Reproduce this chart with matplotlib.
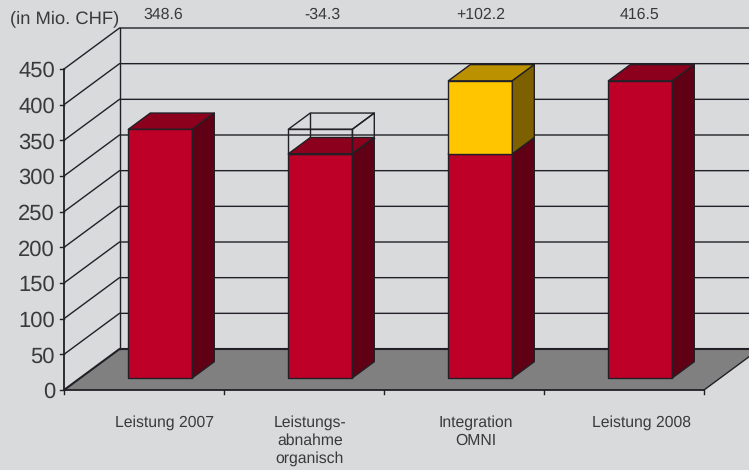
import matplotlib
matplotlib.use('Agg')
import matplotlib.pyplot as plt
from matplotlib.patches import Polygon

plt.rcParams['font.family'] = ['Liberation Sans', 'DejaVu Sans']
plt.rcParams['text.hinting'] = 'no_hinting'

# Data
categories = ['Leistung 2007', 'Leistungs-\nabnahme\norganisch', 'Integration\nOMNI', 'Leistung 2008']
top_labels = ['348.6', '-34.3', '+102.2', '416.5']
red_values = [348.6, 314.3, 314.3, 416.5]
yellow_values = [0, 0, 102.2, 0]
ghost_values = [0, 34.3, 0, 0]
y_ticks = [0, 50, 100, 150, 200, 250, 300, 350, 400, 450]

# Colors
bg_color = '#d9dadc'
floor_color = '#808080'
line_color = '#222026'
text_color = '#3a3a3a'
red_faces = ('#be0028', '#8c001e', '#5f0014')
yellow_faces = ('#ffc600', '#bb9100', '#7d6100')

# Layout of the fake 3d box, in pixels
x0, y0 = 64.0, 390.0
cat_w = 160.0
px_per_unit = 321.0 / 450
depth_dx, depth_dy = 55.5, -41.0
bar_gap = 48.0
bar_w = 64.0
d_front, d_back = 0.295, 0.69
top_label_x = [163, 322, 481, 640]
cat_label_x = [165, 310, 476, 642]


def pt(cat, value, depth):
    # cat in category units, value in CHF, depth 0 (front) to 1 (back)
    return (x0 + cat * cat_w + depth * depth_dx,
            y0 - value * px_per_unit + depth * depth_dy)


def draw_block(ax, i, low, high, faces, fill=True):
    left = i + bar_gap / cat_w
    right = left + bar_w / cat_w
    front = [pt(left, low, d_front), pt(right, low, d_front),
             pt(right, high, d_front), pt(left, high, d_front)]
    side = [pt(right, low, d_front), pt(right, low, d_back),
            pt(right, high, d_back), pt(right, high, d_front)]
    top = [pt(left, high, d_front), pt(right, high, d_front),
           pt(right, high, d_back), pt(left, high, d_back)]
    for poly, face in zip((front, top, side), faces):
        ax.add_patch(Polygon(poly, closed=True, facecolor=face if fill else 'none',
                             edgecolor=line_color, linewidth=1.0, joinstyle='round', zorder=4))
    if not fill:
        # back edges of the empty box show through
        for a, b in ((pt(left, low, d_back), pt(left, high, d_back)),
                     (pt(left, low, d_back), pt(right, low, d_back))):
            ax.plot(*zip(a, b), color=line_color, lw=1.0, zorder=3.5)


fig = plt.figure(figsize=(7.49, 4.70), dpi=100, facecolor=bg_color)
ax = fig.add_axes([0, 0, 1, 1])
ax.set_xlim(0, 749)
ax.set_ylim(470, 0)
ax.axis('off')

n = len(categories)

# Floor
floor = [pt(0, 0, 0), pt(n, 0, 0), pt(n, 0, 1), pt(0, 0, 1)]
ax.add_patch(Polygon(floor, closed=True, facecolor=floor_color, edgecolor='none', zorder=1))

# Gridlines on side wall and back wall
for v in y_ticks:
    xs = [pt(0, v, 0)[0], pt(0, v, 1)[0], pt(n, v, 1)[0]]
    ys = [pt(0, v, 0)[1], pt(0, v, 1)[1], pt(n, v, 1)[1]]
    lw = 1.5 if v == 0 else 1.0
    ax.plot(xs, ys, color=line_color, lw=lw, zorder=2, solid_capstyle='butt')
    # y tick and label
    tx, ty = pt(0, v, 0)
    ax.plot([tx - 4, tx], [ty, ty], color=line_color, lw=1.0, zorder=3)
    ax.text(tx - 9, ty, str(v), ha='right', va='center_baseline', fontsize=15.8, color=text_color)

# Axis frame
ax.plot(*zip(pt(0, 0, 0), pt(0, 450, 0)), color=line_color, lw=1.3, zorder=3)
ax.plot(*zip(pt(0, 0, 1), pt(0, 450, 1)), color=line_color, lw=1.0, zorder=3)
ax.plot(*zip(pt(0, 0, 0), pt(n, 0, 0)), color=line_color, lw=1.3, zorder=3)
ax.plot(*zip(pt(n, 0, 0), pt(n, 0, 1)), color=line_color, lw=1.0, zorder=3)

# x ticks
for i in range(n + 1):
    tx, ty = pt(i, 0, 0)
    ax.plot([tx, tx], [ty, ty + 4], color=line_color, lw=1.0, zorder=3)

# Bars
for i in range(n):
    draw_block(ax, i, 0, red_values[i], red_faces)
    if yellow_values[i] > 0:
        draw_block(ax, i, red_values[i], red_values[i] + yellow_values[i], yellow_faces)
    if ghost_values[i] > 0:
        draw_block(ax, i, red_values[i], red_values[i] + ghost_values[i], red_faces, fill=False)

# Texts
for i in range(n):
    ax.text(top_label_x[i], 15, top_labels[i], ha='center', va='center', fontsize=11.4, color=text_color)
    ax.text(cat_label_x[i], 415.5, categories[i], ha='center', va='top', fontsize=11.3,
            color=text_color, linespacing=1.23)
ax.text(10, 19, '(in Mio. CHF)', ha='left', va='center', fontsize=13.2, color=text_color)

fig.savefig('out.png', dpi=100, facecolor=bg_color)
